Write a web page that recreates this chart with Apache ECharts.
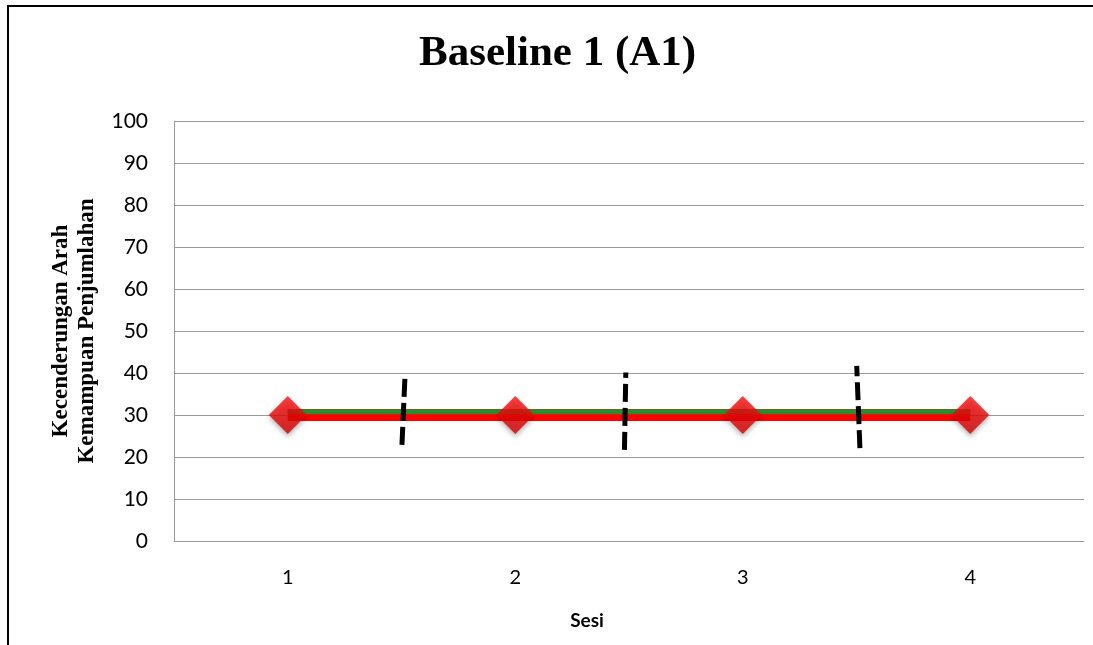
<!DOCTYPE html>
<html>
<head>
<meta charset="utf-8">
<style>
  html, body { margin: 0; padding: 0; background: #fff; overflow: hidden; }
  #chart { width: 1093px; height: 645px; }
</style>
<script src="https://cdn.jsdelivr.net/npm/echarts@6/dist/echarts.min.js"></script>
</head>
<body>
<div id="chart"></div>
<script>
const sessions = ['1', '2', '3', '4'];
const scores = [30, 30, 30, 30];
const trend = [30.8, 30.8, 30.8, 30.8];
// hand-drawn dashed separators between sessions: [x, y] bottom and top
const sep1 = [[1.502, 22.9], [1.515, 38.8]];
const sep2 = [[2.480, 21.7], [2.486, 40.1]];
const sep3 = [[3.515, 22.1], [3.501, 41.7]];

const gridColor = '#9a9a9a';
const sepStyle = { color: '#000', width: 5, type: [18, 6] };

const sepSeries = [sep1, sep2, sep3].map(d => ({
  type: 'line',
  xAxisIndex: 1,
  data: d,
  symbol: 'none',
  lineStyle: sepStyle,
  z: 5,
  silent: true
}));

const chart = echarts.init(document.getElementById('chart'));
chart.setOption({
  animation: false,
  backgroundColor: '#fff',
  title: {
    text: 'Baseline 1 (A1)',
    left: 414,
    top: 27,
    textStyle: { fontFamily: 'Liberation Serif', fontWeight: 'bold', fontSize: 43, color: '#000' }
  },
  graphic: [{
    type: 'polyline',
    shape: { points: [[8, 700], [8, 6], [1300, 6]] },
    style: { fill: null, stroke: '#000', lineWidth: 2 },
    silent: true
  }],
  grid: { left: 174, top: 121, right: 9, bottom: 104 },
  xAxis: [{
    type: 'category',
    data: sessions,
    boundaryGap: true,
    name: 'Sesi',
    nameLocation: 'middle',
    nameGap: 70,
    nameTextStyle: { fontFamily: 'Lato', fontWeight: 'bold', fontSize: 19, color: '#000', padding: [0, 84, 0, 0] },
    axisLine: { lineStyle: { color: gridColor, width: 1 } },
    axisTick: { show: false },
    axisLabel: { fontFamily: 'Lato', fontSize: 20, color: '#000', margin: 27 }
  }, {
    type: 'value',
    min: 0.5,
    max: 4.5,
    show: false
  }],
  yAxis: {
    type: 'value',
    min: 0,
    max: 100,
    interval: 10,
    name: 'Kecenderungan Arah\nKemampuan Penjumlahan',
    nameLocation: 'middle',
    nameGap: 74,
    nameTextStyle: { fontFamily: 'Liberation Serif', fontWeight: 'bold', fontSize: 23, lineHeight: 26, color: '#000' },
    axisLine: { show: true, lineStyle: { color: gridColor, width: 1 } },
    axisTick: { show: false },
    axisLabel: { fontFamily: 'Lato', fontSize: 21, color: '#000', margin: 26 },
    splitLine: { lineStyle: { color: gridColor, width: 1 } }
  },
  series: [{
    type: 'line',
    data: scores,
    symbol: 'none',
    lineStyle: { color: '#ff0000', width: 12 },
    z: 2
  }, {
    type: 'line',
    data: trend,
    symbol: 'none',
    lineStyle: { color: '#2f8a2f', width: 5 },
    z: 3
  }, {
    type: 'scatter',
    data: scores,
    symbol: 'diamond',
    symbolSize: [38, 38],
    itemStyle: {
      color: {
        type: 'linear', x: 0, y: 0, x2: 0, y2: 1,
        colorStops: [{ offset: 0, color: '#ff1010' }, { offset: 1, color: '#d00000' }]
      },
      shadowBlur: 5,
      shadowOffsetY: 3,
      shadowColor: 'rgba(0,0,0,0.35)'
    },
    z: 4
  }].concat(sepSeries)
});
</script>
</body>
</html>
